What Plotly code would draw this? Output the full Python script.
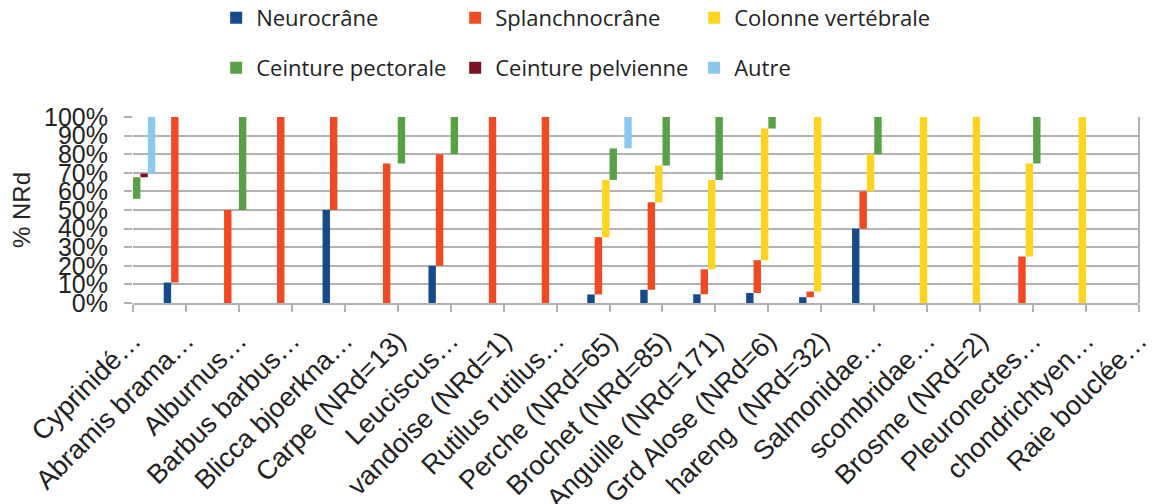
import numpy as np
import plotly.graph_objects as go

categories = ["Cyprinidé…", "Abramis brama…", "Alburnus…", "Barbus barbus…",
              "Blicca bjoerkna…", "Carpe (NRd=13)", "Leuciscus…", "vandoise (NRd=1)",
              "Rutilus rutilus…", "Perche (NRd=65)", "Brochet (NRd=85)",
              "Anguille (NRd=171)", "Grd Alose (NRd=6)", "hareng  (NRd=32)",
              "Salmonidae…", "scombridae…", "Brosme (NRd=2)", "Pleuronectes…",
              "chondrichtyen…", "Raie bouclée…"]

series_names = ["Neurocrâne", "Splanchnocrâne", "Colonne vertébrale",
                "Ceinture pectorale", "Ceinture pelvienne", "Autre"]
series_colors = ["#174A8B", "#EF4A24", "#FED420", "#58A146", "#7D1124", "#8DC8EC"]

# percentages of NRd per category
neurocrane = [0, 11, 0, 0, 50, 0, 20, 0, 0, 4.6, 7.1, 4.7, 5.4, 3.1, 40, 0, 0, 0, 0, 0]
splanchnocrane = [56, 89, 50, 100, 50, 75, 60, 100, 100, 30.8, 47.0, 13.4, 17.6, 3.1, 20, 0, 0, 25, 0, 0]
colonne = [0, 0, 0, 0, 0, 0, 0, 0, 0, 30.8, 19.8, 48.0, 70.8, 93.8, 20, 100, 100, 50, 100, 0]
ceinture_pectorale = [11.6, 0, 50, 0, 0, 25, 20, 0, 0, 16.9, 26.1, 33.9, 6.2, 0, 20, 0, 0, 25, 0, 0]
ceinture_pelvienne = [2, 0, 0, 0, 0, 0, 0, 0, 0, 0, 0, 0, 0, 0, 0, 0, 0, 0, 0, 0]
autre = [30.4, 0, 0, 0, 0, 0, 0, 0, 0, 16.9, 0, 0, 0, 0, 0, 0, 0, 0, 0, 100]

series_values = [neurocrane, splanchnocrane, colonne,
                 ceinture_pectorale, ceinture_pelvienne, autre]

vals = np.array(series_values, dtype=float)
bases = np.vstack([np.zeros(vals.shape[1]), np.cumsum(vals, axis=0)[:-1]])

GRID = "#B2B2B2"
TXT = "#222222"
AX_FONT = "Liberation Sans, Arial, sans-serif"
LEG_FONT = "Open Sans, sans-serif"

fig = go.Figure()
for i, (name, color) in enumerate(zip(series_names, series_colors)):
    fig.add_trace(go.Bar(
        x=categories, y=vals[i], base=bases[i], name=name,
        marker=dict(color=color, line=dict(width=0)),
        legend="legend" if i < 3 else "legend2",
    ))

W, H = 1163, 496
fig.update_layout(
    width=W, height=H,
    margin=dict(l=125, r=32, t=109, b=201),
    barmode="group", bargap=0.16, bargroupgap=0,
    plot_bgcolor="white", paper_bgcolor="white",
    font=dict(family=AX_FONT, color=TXT),
    legend=dict(orientation="h", xref="container", yref="container",
                x=0.179, y=0.980, xanchor="left", yanchor="middle",
                entrywidth=194, entrywidthmode="pixels",
                font=dict(family=LEG_FONT, size=22, color=TXT),
                bgcolor="rgba(0,0,0,0)", traceorder="normal"),
    legend2=dict(orientation="h", xref="container", yref="container",
                 x=0.179, y=0.879, xanchor="left", yanchor="middle",
                 entrywidth=194, entrywidthmode="pixels",
                 font=dict(family=LEG_FONT, size=22, color=TXT),
                 bgcolor="rgba(0,0,0,0)", traceorder="normal"),
    shapes=[dict(type="line", xref="paper", yref="paper", x0=1, x1=1, y0=0, y1=1,
                 line=dict(color=GRID, width=2))],
)

fig.update_xaxes(type="category", range=[0, len(categories) - 1],
                 ticks="outside", ticklen=7, tickwidth=2, tickcolor=GRID,
                 showline=True, linecolor=GRID, linewidth=2, showgrid=False,
                 tickangle=-45, ticklabelshift=0, ticklabelstandoff=2,
                 tickfont=dict(size=27, family=AX_FONT, color=TXT),
                 automargin=False)
fig.update_yaxes(range=[0, 100], dtick=10, ticksuffix="%",
                 showgrid=True, gridcolor=GRID, gridwidth=2, zeroline=False,
                 ticks="outside", ticklen=8, tickwidth=2, tickcolor=GRID,
                 ticklabelstandoff=11,
                 tickfont=dict(size=25, family=AX_FONT, color=TXT),
                 title=dict(text="% NRd", standoff=17,
                            font=dict(size=24, family=AX_FONT, color=TXT)),
                 automargin=False)

fig.write_html("out.html")
